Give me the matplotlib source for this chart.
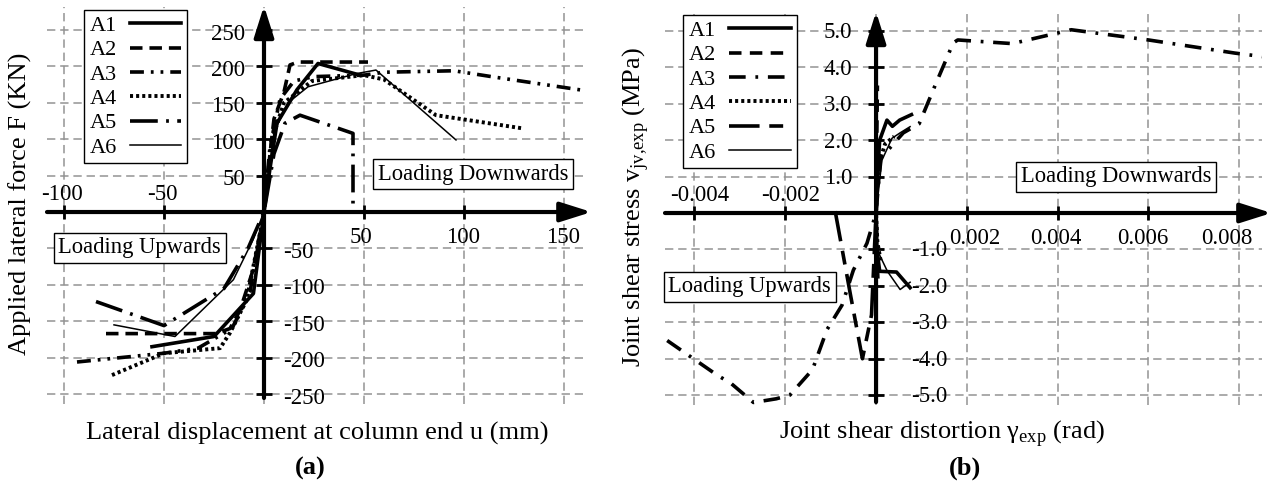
import numpy as np
import matplotlib.pyplot as plt
from matplotlib.lines import Line2D

plt.rcParams['font.family'] = ['Liberation Serif', 'DejaVu Serif']
plt.rcParams['mathtext.fontset'] = 'custom'
plt.rcParams['mathtext.rm'] = 'Liberation Serif'
plt.rcParams['lines.scale_dashes'] = False

# ---- data (a): lateral displacement u (mm) vs force F (kN)
a1_u = [-56, -25, -5.3, 0, 3, 6.5, 16.5, 27, 48]
a1_f = [-185, -171, -112, 0, 60, 122, 168, 204, 188]
a2_u = [-79, -24, -17, -12, -5.5, 0, 3, 5, 10, 13, 17, 52]
a2_f = [-167, -167, -160, -135, -80, 0, 80, 128, 165, 202, 206, 206]
a3_u = [-93.5, -50, -33, -16, -7, 0, 3, 8, 15, 25, 50, 60, 95, 116, 160]
a3_f = [-206, -194, -187, -160, -110, 0, 90, 155, 180, 186, 188, 192, 194, 185, 167]
a4_u = [-76, -50, -22, -17, -8.7, -2, 0, 4, 10, 24, 50, 60, 86, 129]
a4_f = [-224, -194, -187, -166, -121, -29, 0, 100, 150, 180, 188, 182, 133, 115]
a5_u = [-84, -50, -20, -8, 0, 5, 10.5, 18, 44.5, 44.5]
a5_f = [-123, -156, -105, -50, 0, 80, 122, 133, 108, 0]
a6_u = [-75, -44.5, -15.3, -5.5, 0, 5, 12, 22, 46, 56, 96]
a6_f = [-155, -171, -93, -38, 0, 110, 150, 172, 190, 195, 99]

# ---- data (b): joint shear distortion (rad) vs joint shear stress (MPa)
b1_g = [0.00075, 0.00045, 0.00008, 0.00002, 0, 0.00003, 0.00008, 0.00024, 0.00036, 0.00052, 0.00078]
b1_v = [-2.05, -1.62, -1.6, -1.0, 0, 1.0, 2.0, 2.55, 2.38, 2.55, 2.7]
b2_g = [0.00004, 0.00002, 0, 0.00001, 0.00003]
b2_v = [-1.8, -1.0, 0, 1.5, 3.5]
b3_g = [-0.0046, -0.0035, -0.0032, -0.0027, -0.0022, -0.0019, -0.0014, -0.00108, -0.00075,
        -0.0005, -0.0002, 0, 0.0001, 0.0006, 0.00095, 0.0013, 0.0017, 0.0018, 0.003, 0.0043,
        0.006, 0.0079, 0.0086]
b3_v = [-3.5, -4.45, -4.67, -5.2, -5.1, -5.0, -4.3, -3.2, -2.53, -1.57, -0.83, 0, 1.5, 2.2,
        2.45, 3.5, 4.67, 4.75, 4.65, 5.03, 4.75, 4.39, 4.28]
b4_g = [0.0001, 0.00003, 0, 0.00005, 0.0002, 0.0004]
b4_v = [-1.3, -0.8, 0, 1.3, 1.9, 2.1]
b5_g = [-0.0009, -0.00057, -0.0003, -0.0001, 0, 0.00004]
b5_v = [0.05, -2.2, -4.0, -2.8, 0, 1.3]
b6_g = [0.00075, 0.00053, 0.00025, 0.00002, 0, 0.00013, 0.00035, 0.00053, 0.00075]
b6_v = [-1.9, -2.1, -1.6, -1.0, 0, 1.45, 2.05, 2.2, 2.37]

names = ['A1', 'A2', 'A3', 'A4', 'A5', 'A6']

# ticks
a_xneg = [-100, -50]
a_xpos = [50, 100, 150]
a_ypos = [50, 100, 150, 200, 250]
a_yneg = [-50, -100, -150, -200, -250]
b_xneg = [-0.004, -0.002]
b_xpos = [0.002, 0.004, 0.006, 0.008]
b_ypos = [1.0, 2.0, 3.0, 4.0, 5.0]
b_yneg = [-1.0, -2.0, -3.0, -4.0, -5.0]

style_a = {
    'A1': dict(ls='-', lw=2.6),
    'A2': dict(ls=(0, (9, 5)), lw=2.6),
    'A3': dict(ls=(0, (10, 5, 2, 5, 2, 5)), lw=2.6),
    'A4': dict(ls=(0, (2.2, 2.2)), lw=2.8),
    'A5': dict(ls=(0, (20, 6, 2, 6)), lw=2.6),
    'A6': dict(ls='-', lw=1.1),
}
style_b = {
    'A1': dict(ls='-', lw=2.6),
    'A2': dict(ls=(0, (9, 6)), lw=2.6),
    'A3': dict(ls=(0, (12, 7, 2, 7)), lw=2.6),
    'A4': dict(ls=(0, (2.2, 2.2)), lw=2.8),
    'A5': dict(ls=(0, (22, 7, 10, 7)), lw=2.6),
    'A6': dict(ls='-', lw=1.1),
}

W, H = 1269, 486
fig = plt.figure(figsize=(W / 100, H / 100), dpi=100)


def px_axes(x0, x1, y0, y1):
    return fig.add_axes([x0 / W, 1 - y1 / H, (x1 - x0) / W, (y1 - y0) / H])


def setup(ax, xlim, ylim, xt, yt, ybot):
    ax.set_xlim(xlim)
    ax.set_ylim(ylim)
    for s in ax.spines.values():
        s.set_visible(False)
    ax.set_xticks(xt)
    ax.set_yticks(yt)
    ax.tick_params(length=0, labelbottom=False, labelleft=False)
    ax.grid(True, ls=(0, (6, 3.5)), color='#939393', lw=1.1)
    ax.set_axisbelow(True)
    ap = dict(arrowstyle='-|>,head_length=0.95,head_width=0.3', lw=3, color='k',
              mutation_scale=20, shrinkA=0, shrinkB=0)
    ax.annotate('', xy=(1.016, 0), xycoords=('axes fraction', 'data'),
                xytext=(0, 0), textcoords=('axes fraction', 'data'),
                arrowprops=ap, zorder=5, annotation_clip=False)
    ax.annotate('', xy=(0, 1.003), xycoords=('data', 'axes fraction'),
                xytext=(0, ybot), textcoords='data',
                arrowprops=ap, zorder=5, annotation_clip=False)


def tick_labels(ax, xneg, xpos, ypos, yneg, fmt, offs):
    zeros = np.zeros
    ax.plot(xneg + xpos, zeros(len(xneg + xpos)), ls='none', marker='|', ms=10, mew=2,
            color='k', zorder=6, clip_on=False)
    ax.plot(zeros(len(ypos + yneg)), ypos + yneg, ls='none', marker='_', ms=11, mew=2,
            color='k', zorder=6, clip_on=False)
    for t in ypos:
        ax.annotate(fmt[1](t), (0, t), xytext=offs['ypos'], textcoords='offset pixels',
                    ha='right', va='center', fontsize=16.5)
    for t in yneg:
        ax.annotate(fmt[1](t), (0, t), xytext=offs['yneg'], textcoords='offset pixels',
                    ha='left', va='center', fontsize=16.5)
    for t in xneg:
        ax.annotate(fmt[0](t), (t, 0), xytext=offs['xneg'], textcoords='offset pixels',
                    ha='center', va='center', fontsize=16.5)
    for t, dx in zip(xpos, offs['xpos_dx']):
        ax.annotate(fmt[0](t), (t, 0), xytext=(dx, offs['xpos_dy']),
                    textcoords='offset pixels', ha='center', va='center', fontsize=16.5)


box = dict(boxstyle='square,pad=0.2', fc='white', ec='black', lw=1)

# ---------------- (a)
ax1 = px_axes(47, 583, 7, 404)
setup(ax1, (-108.5, 159.5), (-263.7, 281.6), a_xneg + [0] + a_xpos,
      a_yneg + [0] + a_ypos, -255.5)
for n, u, f in zip(names, [a1_u, a2_u, a3_u, a4_u, a5_u, a6_u],
                   [a1_f, a2_f, a3_f, a4_f, a5_f, a6_f]):
    ax1.plot(u, f, color='k', zorder=3, **style_a[n])
tick_labels(ax1, a_xneg, a_xpos, a_ypos, a_yneg,
            (lambda t: '%d' % t, lambda t: '%d' % t),
            dict(ypos=(-19, -4), yneg=(19, -4), xneg=(-2, 18),
                 xpos_dx=[-3, -1, -1], xpos_dy=-25))
ax1.text(104.5, 52.2, 'Loading Downwards', ha='center', va='center', fontsize=16.3,
         bbox=box, zorder=7)
ax1.text(-62.2, -48.8, 'Loading Upwards', ha='center', va='center', fontsize=16.3,
         bbox=box, zorder=7)
leg1 = fig.legend([Line2D([], [], color='k', **style_a[n]) for n in names], names,
                  loc='upper left', bbox_to_anchor=(84 / W, 1 - 10 / H),
                  markerfirst=False, fontsize=16, frameon=True, fancybox=False,
                  framealpha=1, edgecolor='k', borderpad=0.25, handlelength=2.3,
                  handletextpad=0.6, labelspacing=0.17, borderaxespad=0)
leg1.get_frame().set_linewidth(1.0)

fig.text(20 / W, 1 - 204 / H, 'Applied lateral force F (KN)', rotation=90,
         ha='center', va='center', fontsize=19)
fig.text(317 / W, 1 - 433 / H, 'Lateral displacement at column end u (mm)',
         ha='center', va='center', fontsize=19)
fig.text(310 / W, 1 - 468 / H, '(a)', ha='center', va='center', fontsize=19,
         fontweight='bold')

# ---------------- (b)
ax2 = px_axes(665, 1262, 13, 405)
setup(ax2, (-0.004648, 0.0085), (-5.27, 5.49), b_xneg + [0] + b_xpos,
      b_yneg + [0] + b_ypos, -5.19)
for n, g, v in zip(names, [b1_g, b2_g, b3_g, b4_g, b5_g, b6_g],
                   [b1_v, b2_v, b3_v, b4_v, b5_v, b6_v]):
    ax2.plot(g, v, color='k', zorder=3, **style_b[n])
tick_labels(ax2, b_xneg, b_xpos, b_ypos, b_yneg,
            (lambda t: '%.3f' % t, lambda t: '%.1f' % t),
            dict(ypos=(-24, -2), yneg=(35, -1.5), xneg=(5, 18),
                 xpos_dx=[8, -2, -6, -12], xpos_dy=-25))
ax2.text(0.00529, 0.99, 'Loading Downwards', ha='center', va='center', fontsize=16.3,
         bbox=box, zorder=7)
ax2.text(-0.00278, -2.03, 'Loading Upwards', ha='center', va='center', fontsize=16.3,
         bbox=box, zorder=7)
leg2 = fig.legend([Line2D([], [], color='k', **style_b[n]) for n in names], names,
                  loc='upper left', bbox_to_anchor=(683 / W, 1 - 15 / H),
                  markerfirst=False, fontsize=16, frameon=True, fancybox=False,
                  framealpha=1, edgecolor='k', borderpad=0.25, handlelength=2.8,
                  handletextpad=0.6, labelspacing=0.17, borderaxespad=0)
leg2.get_frame().set_linewidth(1.0)

fig.text(636 / W, 1 - 207 / H, r'Joint shear stress v$_{\mathregular{jv{,}exp}}$ (MPa)',
         rotation=90, ha='center', va='center', fontsize=19)
fig.text(942 / W, 1 - 433 / H, r'Joint shear distortion γ$_{\mathregular{exp}}$ (rad)',
         ha='center', va='center', fontsize=19)
fig.text(965 / W, 1 - 468 / H, '(b)', ha='center', va='center', fontsize=19,
         fontweight='bold')

fig.savefig('out.png', dpi=100)
